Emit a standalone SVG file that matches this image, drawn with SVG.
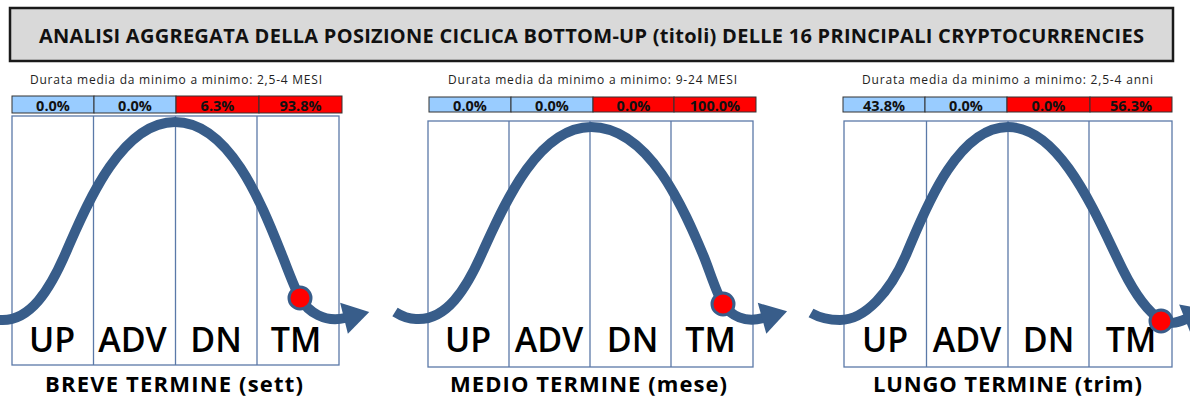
<svg xmlns="http://www.w3.org/2000/svg" width="1190" height="402" viewBox="0 0 1190 402">
<defs>
<style>
text{font-family:"Open Sans","Liberation Sans",Arial,sans-serif}
.title{font-size:20px;font-weight:bold;fill:#111;text-anchor:middle}
.sub{font-size:12px;fill:#222;text-anchor:middle}
.pct{font-size:14.5px;font-weight:bold;fill:#111;text-anchor:middle}
.blue{fill:#99ccff;stroke:#333;stroke-width:1}
.red{fill:#ff0000;stroke:#333;stroke-width:1}
.grid{fill:#fff;stroke:#5b79a8;stroke-width:1.3}
.gl{stroke:#5b79a8;stroke-width:1.3}
.lab{font-size:34px;font-weight:600;fill:#000;text-anchor:middle}
.cap{font-size:22px;font-weight:bold;fill:#000;text-anchor:middle}
.curve{fill:none;stroke:#385d8a;stroke-width:10;marker-end:url(#ah)}
.dot{fill:#ff0000;stroke:#385d8a;stroke-width:3}
</style>
<marker id="ah" markerUnits="userSpaceOnUse" viewBox="0 0 26 32" markerWidth="26" markerHeight="32" refX="1" refY="16" orient="auto" overflow="visible"><path d="M0,0 L26,16 L0,32 Z" fill="#385d8a"/></marker>
</defs>
<rect width="1190" height="402" fill="#fff"/>
<g id="title">
<rect x="10" y="8" width="1163" height="53" fill="#d9d9d9" stroke="#1a1a1a" stroke-width="2.5"/>
<text class="title" x="591.5" y="43" textLength="1105">ANALISI AGGREGATA DELLA POSIZIONE CICLICA BOTTOM-UP (titoli) DELLE 16 PRINCIPALI CRYPTOCURRENCIES</text>
</g>
<g id="panel-breve">
<text class="sub" x="176" y="83.5" textLength="292">Durata media da minimo a minimo: 2,5-4 MESI</text>
<rect class="blue" x="12" y="96" width="82" height="17"/><rect class="blue" x="94" y="96" width="82" height="17"/>
<rect class="red" x="176" y="96" width="83" height="17"/><rect class="red" x="259" y="96" width="83" height="17"/>
<text class="pct" x="53" y="111">0.0%</text><text class="pct" x="135" y="111">0.0%</text>
<text class="pct" x="217.5" y="111">6.3%</text><text class="pct" x="300.5" y="111">93.8%</text>
<rect class="grid" x="12" y="116" width="327" height="249"/>
<line class="gl" x1="93.5" y1="116" x2="93.5" y2="365"/><line class="gl" x1="175.5" y1="116" x2="175.5" y2="365"/><line class="gl" x1="257" y1="116" x2="257" y2="365"/>
<text class="lab" x="52" y="352">UP</text><text class="lab" x="132.5" y="352">ADV</text><text class="lab" x="216" y="352">DN</text><text class="lab" x="296" y="352">TM</text>
<text class="cap" x="174" y="392" textLength="258">BREVE TERMINE (sett)</text>
</g>
<g id="panel-medio">
<text class="sub" x="592.5" y="84" textLength="289">Durata media da minimo a minimo: 9-24 MESI</text>
<rect class="blue" x="429" y="97" width="82" height="15"/><rect class="blue" x="511" y="97" width="82" height="15"/>
<rect class="red" x="593" y="97" width="81" height="15"/><rect class="red" x="674" y="97" width="82" height="15"/>
<text class="pct" x="470" y="110.5">0.0%</text><text class="pct" x="552" y="110.5">0.0%</text>
<text class="pct" x="633.5" y="110.5">0.0%</text><text class="pct" x="715" y="110.5">100.0%</text>
<rect class="grid" x="428" y="121" width="325" height="246"/>
<line class="gl" x1="509" y1="121" x2="509" y2="367"/><line class="gl" x1="590" y1="121" x2="590" y2="367"/><line class="gl" x1="671" y1="121" x2="671" y2="367"/>
<text class="lab" x="468" y="352">UP</text><text class="lab" x="549" y="352">ADV</text><text class="lab" x="632.5" y="352">DN</text><text class="lab" x="710.5" y="352">TM</text>
<text class="cap" x="588.5" y="392" textLength="277">MEDIO TERMINE (mese)</text>
</g>
<g id="panel-lungo">
<text class="sub" x="1007.5" y="84" textLength="291">Durata media da minimo a minimo: 2,5-4 anni</text>
<rect class="blue" x="843" y="97" width="82" height="15"/><rect class="blue" x="925" y="97" width="82" height="15"/>
<rect class="red" x="1007" y="97" width="83" height="15"/><rect class="red" x="1090" y="97" width="82" height="15"/>
<text class="pct" x="884" y="110.5">43.8%</text><text class="pct" x="966" y="110.5">0.0%</text>
<text class="pct" x="1048.5" y="110.5">0.0%</text><text class="pct" x="1131" y="110.5">56.3%</text>
<rect class="grid" x="844" y="121" width="328" height="246"/>
<line class="gl" x1="926.5" y1="121" x2="926.5" y2="367"/><line class="gl" x1="1008" y1="121" x2="1008" y2="367"/><line class="gl" x1="1089" y1="121" x2="1089" y2="367"/>
<text class="lab" x="885" y="352">UP</text><text class="lab" x="967" y="352">ADV</text><text class="lab" x="1048.5" y="352">DN</text><text class="lab" x="1131" y="352">TM</text>
<text class="cap" x="1007.5" y="392" textLength="269">LUNGO TERMINE (trim)</text>
</g>
<g id="connectors">
<path class="curve" d="M-21,312 C-12,317 -6,320 0,320 C30,322 50,290 67,250 C85,209 120,122 175,122 C230,122 262,205 282,255 C288,270 294,287 300,298 C308,312 325,323 345,318"/>
<path class="curve" d="M395,312 C403,317 410,319 416,319 C446,321 466,290 483,251 C501,212 536,127 591,127 C649,127 684,209 704,257 C710,272 716,292 723,304 C731,316 745,323 763,318"/>
<path class="curve" d="M811,313 C820,318 830,320 840,320 C865,320 890,292 906,255 C922,218 955,127 1008,127 C1062,127 1098,220 1123,270 C1133,290 1145,310 1161,320 C1169,325 1176,323 1186,319"/>
</g>
<g id="markers">
<circle class="dot" cx="300" cy="298" r="11"/>
<circle class="dot" cx="723" cy="304" r="11"/>
<circle class="dot" cx="1161" cy="321" r="11"/>
</g>
</svg>
